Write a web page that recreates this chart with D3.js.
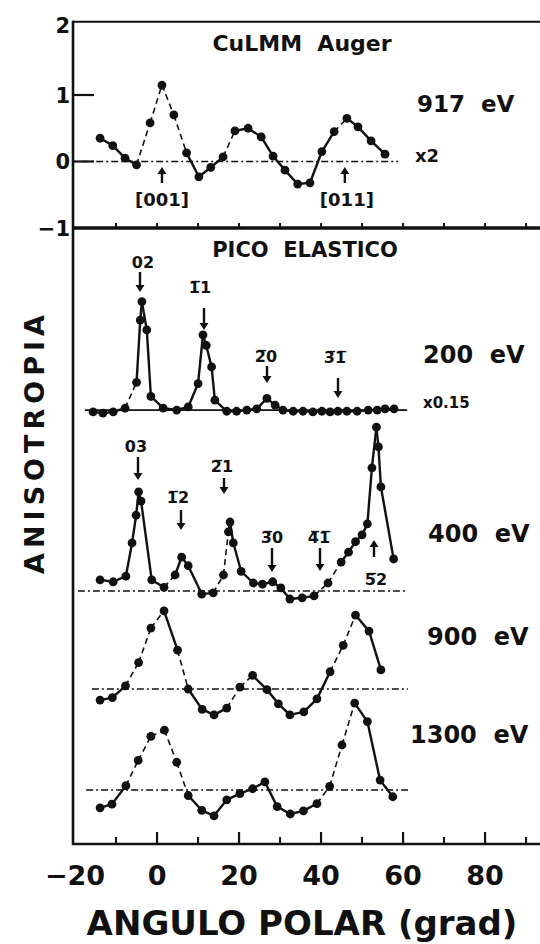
<!DOCTYPE html>
<html><head><meta charset="utf-8">
<script src="https://cdn.jsdelivr.net/npm/d3@7"></script>
<style>
html,body{margin:0;padding:0;background:#fff;}
svg{display:block;}
text{font-family:"DejaVu Sans",sans-serif;font-weight:bold;fill:#111;white-space:pre;}
</style>
</head><body>
<svg id="c" width="540" height="944"></svg>
<script>
// ---------------- DATA ----------------
const xMajorTicks = [-20, 0, 20, 40, 60, 80];
const xMinorTicks = [-10, 10, 30, 50, 70, 90];
const topTicks = [2, 1, 0, -1];
const topTickLabels = ["2", "1", "0", "\u22121"];

// CuLMM Auger 917 eV (x2)
const augerAngles = [-13.9,-10.8,-7.8,-5.0,-1.7,1.2,4.1,7.2,10.2,13.1,16.1,19.0,22.2,25.4,28.3,31.2,34.3,37.3,40.2,43.2,46.3,49.0,52.2,55.6];
const augerValues = [0.35,0.24,0.05,-0.05,0.58,1.15,0.70,0.13,-0.23,-0.09,0.07,0.46,0.50,0.37,0.08,-0.13,-0.34,-0.32,0.15,0.45,0.65,0.52,0.31,0.11];

// Pico elastico 200 eV (x0.15)
const e200Angles = [-15.6,-13.2,-10.7,-7.8,-5.0,-4.1,-3.7,-2.5,-1.5,1.5,4.8,7.6,10.0,11.2,12.0,13.3,14.1,17.0,19.4,21.9,24.3,26.8,28.8,30.7,33.2,35.6,38.0,40.2,42.2,44.1,46.3,48.8,51.5,53.7,55.6,57.8];
const e200Values = [-0.3,-0.5,-0.3,0.3,4.5,14.6,17.6,13.0,2.2,0.3,0.0,0.5,4.3,12.2,10.5,7.0,1.6,-0.2,-0.2,0.0,0.2,1.9,0.8,0.0,-0.2,-0.2,-0.3,-0.2,-0.3,-0.2,-0.2,-0.2,0.0,0.0,0.2,0.2];

// 400 eV
const e400Angles = [-13.9,-10.7,-7.6,-6.1,-5.1,-4.5,-3.9,-1.3,1.7,4.4,6.0,7.6,10.9,13.7,16.2,17.4,17.8,18.6,20.5,23.5,25.7,28.2,30.2,32.4,35.4,38.3,41.7,44.9,46.7,48.4,50.0,51.3,52.4,53.5,54.0,54.6,57.7];
const e400Values = [1.8,1.5,2.4,7.8,12.3,16.1,14.6,1.8,0.6,2.6,5.5,4.1,-0.5,-0.3,2.6,9.6,11.2,7.8,3.2,1.3,1.1,1.5,0.5,-1.3,-1.1,-0.8,1.3,4.7,6.3,8.0,9.1,10.9,20.0,26.6,23.4,16.9,5.2];

// 900 eV
const e900Angles = [-13.9,-10.9,-7.7,-4.5,-1.5,1.7,5.0,7.6,11.0,13.9,17.0,20.2,23.3,26.8,29.6,32.4,35.8,39.0,42.2,45.4,48.4,51.7,54.6];
const e900Values = [-1.8,-1.4,0.5,4.3,9.9,12.7,6.3,0.0,-3.3,-4.2,-3.1,0.3,2.2,-0.1,-2.4,-4.2,-3.7,-1.6,2.8,7.1,12.0,9.4,3.1];

// 1300 eV
const e1300Angles = [-13.9,-11.0,-7.6,-4.6,-1.5,1.8,4.8,7.6,10.9,13.9,17.0,20.2,23.3,26.3,29.3,32.5,35.7,39.0,42.1,45.1,48.2,51.3,54.4,57.5];
const e1300Values = [-2.9,-2.3,0.7,4.8,8.7,9.7,4.5,-0.9,-3.3,-4.2,-1.6,-0.6,0.2,1.3,-2.7,-3.9,-3.4,-2.2,0.6,7.3,14.1,11.1,1.6,-1.1];

// vertical offsets (lower panel units) of each elastic-peak curve
const lowerOffsets = [70.45, 41.07, 25.16, 8.77];
// zero-line extents (degrees)
const zeroFrom = [-18.5, -17.6, -19.3, -15.9, -17.3];
const zeroTo   = [58.8, 61.0, 61.2, 61.2, 61.2];

// ---------------- STYLE / LAYOUT ----------------
const svg = d3.select('#c');
const x = d3.scaleLinear().domain([-20.5, 93.4]).range([73, 540]);
const yTop = d3.scaleLinear().domain([-1, 2.1]).range([228, 21.85]);
const yLow = d3.scaleLinear().domain([0, 100]).range([844, 228]);
const ink = "#111";

// solid segment ranges per curve (others dashed)
const solidAuger = [[0,3],[7,10],[11,19],[20,23]];
const solid200 = [[0,3],[4,35]];
const solid400 = [[0,8],[9,13],[15,25],[27,36]];
const solid900 = [[0,2],[5,6],[7,10],[12,18],[20,22]];
const solid1300 = [[0,2],[7,17],[20,23]];

function line(x1,y1,x2,y2,w,dash){
  const l = svg.append('line').attr('x1',x1).attr('y1',y1).attr('x2',x2).attr('y2',y2)
    .attr('stroke',ink).attr('stroke-width',w).attr('stroke-linecap','butt');
  if(dash) l.attr('stroke-dasharray',dash);
  return l;
}

// frame
line(72, yTop(2.1), 540, yTop(2.1), 2);
line(73, yTop(2.1)-1, 73, 845, 2.6);
line(72, yTop(-1), 540, yTop(-1), 3.6);
line(72, 844, 540, 844, 2.6);

// top-panel left ticks
[1,0].forEach(v => line(73, yTop(v), 94, yTop(v), 2.2));
svg.selectAll('.tl').data(topTicks).enter().append('text')
  .attr('x', 70).attr('y', d => yTop(d === 2 ? 2.05 : d)).attr('dy','0.36em')
  .attr('text-anchor','end').style('font-size','21px')
  .text((d,i) => topTickLabels[i]);

// ticks on divider
d3.range(-10, 100, 10).forEach(d => line(x(d), yTop(-1), x(d), yTop(-1)-5, 2));

// bottom axis ticks
xMajorTicks.forEach(d => { if (d > -20) line(x(d), 844, x(d), 832, 2.2); });
xMinorTicks.forEach(d => line(x(d), 844, x(d), 837, 2));
svg.selectAll('.xl').data(xMajorTicks).enter().append('text')
  .attr('x', d => x(d)).attr('y', 885).attr('text-anchor','middle')
  .style('font-size','27px').text(d => d < 0 ? '\u2212' + Math.abs(d) : d);

// axis titles
svg.append('text').attr('x', 302).attr('y', 935).attr('text-anchor','middle')
  .style('font-size','34px').text('ANGULO POLAR (grad)');
svg.append('text').attr('transform','translate(44,442) rotate(-90)')
  .attr('text-anchor','middle').style('font-size','27px').style('letter-spacing','5px')
  .text('ANISOTROPIA');

// zero lines
line(x(zeroFrom[0]), yTop(0), x(zeroTo[0]), yTop(0), 1.3, '7,3,2,3');
line(x(zeroFrom[1]), yLow(lowerOffsets[0]), x(zeroTo[1]), yLow(lowerOffsets[0]), 1.8);
[1,2,3].forEach(k => line(x(zeroFrom[k+1]), yLow(lowerOffsets[k]), x(zeroTo[k+1]), yLow(lowerOffsets[k]), 1.3, '7,3,2,3'));

// curves
function drawSeries(angles, values, ys, base, solid){
  const pts = angles.map((a,i) => [x(a), ys(base + values[i])]);
  const isSolid = i => solid.some(r => i >= r[0] && i < r[1]);
  for (let i = 0; i < pts.length - 1; i++){
    const s = isSolid(i);
    line(pts[i][0], pts[i][1], pts[i+1][0], pts[i+1][1], s ? 2.4 : 1.6, s ? null : '6,4');
  }
  svg.append('g').selectAll('circle').data(pts).enter().append('circle')
    .attr('cx', d => d[0]).attr('cy', d => d[1]).attr('r', 4.4).attr('fill', ink);
}
drawSeries(augerAngles, augerValues, yTop, 0, solidAuger);
drawSeries(e200Angles, e200Values, yLow, lowerOffsets[0], solid200);
drawSeries(e400Angles, e400Values, yLow, lowerOffsets[1], solid400);
drawSeries(e900Angles, e900Values, yLow, lowerOffsets[2], solid900);
drawSeries(e1300Angles, e1300Values, yLow, lowerOffsets[3], solid1300);

// arrows
function arrow(xp, y1, y2){ // from y1 to y2, head at y2
  const dir = y2 > y1 ? 1 : -1;
  line(xp, y1, xp, y2 - dir*5, 2.4);
  svg.append('path').attr('d', `M${xp-4.5},${y2-dir*7} L${xp+4.5},${y2-dir*7} L${xp},${y2} Z`).attr('fill', ink);
}
function label(t, xp, yp, size, anchor){
  return svg.append('text').attr('x', xp).attr('y', yp).attr('text-anchor', anchor || 'middle')
    .style('font-size', size + 'px').text(t);
}

// top panel annotations
label('CuLMM  Auger', 302, 51, 22);
label('917  eV', 417, 112, 23, 'start');
label('x2', 415, 162, 18, 'start');
arrow(x(1.2), 183, 167);
arrow(x(45.8), 183, 167);
label('[001]', x(1.2), 206, 18);
label('[011]', x(46.3), 206, 18);

// 200 eV annotations
label('PICO  ELASTICO', 305, 257, 21);
label('02', 143, 268, 16);
arrow(140, 272, 292);
label('1\u03051', 200, 293, 16);
arrow(204, 308, 330);
label('2\u03050', 266, 362, 16);
arrow(267, 366, 383);
label('3\u03051\u0305', 335, 363, 16);
arrow(338, 378, 398);
label('200  eV', 423, 363, 24, 'start');
label('x0.15', 423, 408, 15, 'start');

// 400 eV annotations
label('03', 136, 452, 16);
arrow(138, 457, 480);
label('1\u03052', 178, 503, 16);
arrow(181, 510, 530);
label('2\u03051', 222, 472, 16);
arrow(224, 478, 494);
label('3\u03050', 272, 543, 16);
arrow(272, 548, 572);
label('4\u03051\u0305', 319, 543, 16);
arrow(320, 548, 571);
label('5\u03052', 376, 585, 16);
arrow(374, 557, 540);
label('400  eV', 428, 542, 24, 'start');

label('900  eV', 427, 645, 24, 'start');
label('1300  eV', 410, 743, 24, 'start');
</script>
</body></html>
